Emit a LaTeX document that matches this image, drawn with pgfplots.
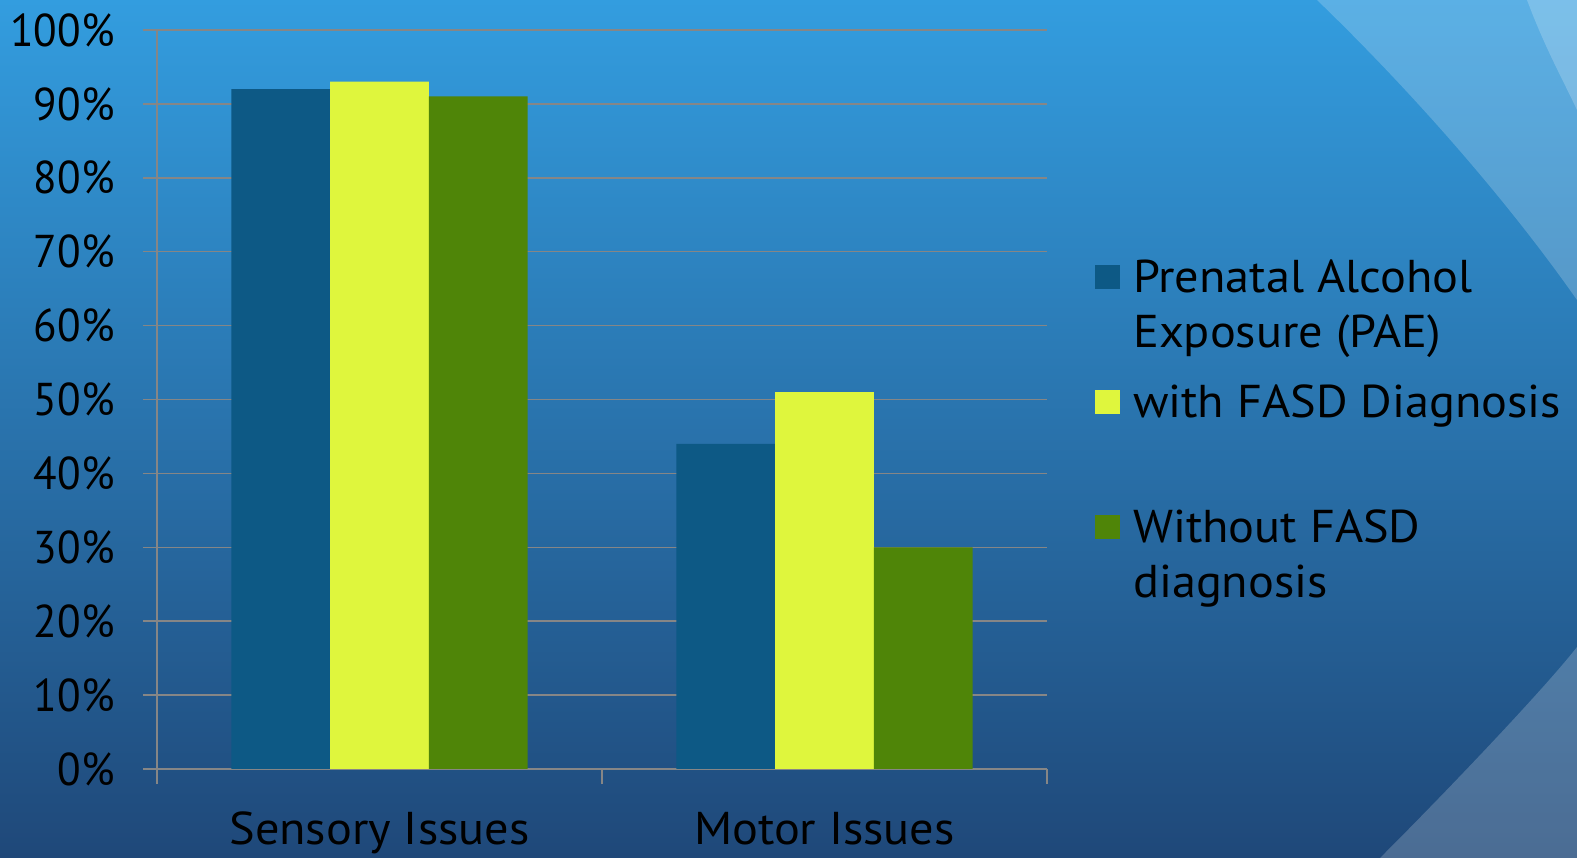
\documentclass[border=0pt]{standalone}
\usepackage{pgfplots}
\pgfplotsset{compat=1.18}
\usepackage{fontspec}
\setmainfont{PT Sans}
\newfontfamily\widefont[FakeStretch=1.05]{PT Sans}
\newfontfamily\narrowfont[FakeStretch=0.94]{PT Sans}
\definecolor{bgtop}{RGB}{51,157,223}
\definecolor{bgbot}{RGB}{31,72,121}
\definecolor{paeblue}{RGB}{13,89,133}
\definecolor{fasdyellow}{RGB}{223,246,61}
\definecolor{nofasdgreen}{RGB}{79,133,8}
\definecolor{gridgray}{RGB}{134,134,134}
% legend text: first line on the baseline, fixed row pitch of 125pt
\newcommand\legtext[1]{\rule[-70pt]{0pt}{125pt}\smash{\begin{tabular}[t]{@{}l@{}}#1\end{tabular}}}
\begin{document}
\begin{tikzpicture}[x=1pt,y=1pt]
\useasboundingbox (0,0) rectangle (1577,858);
% slide background
\shade[top color=bgtop, bottom color=bgbot] (0,0) rectangle (1577,858);
\fill[white,opacity=0.2] (1317,858) .. controls (1400,778) and (1500,668) .. (1577,558) -- (1577,858) -- cycle;
\fill[white,opacity=0.2] (1527,858) .. controls (1545,810) and (1562,780) .. (1577,748) -- (1577,858) -- cycle;
\fill[white,opacity=0.2] (1577,211) .. controls (1545,170) and (1450,70) .. (1380,0) -- (1577,0) -- cycle;
\begin{axis}[
  at={(157pt,89pt)}, anchor=south west,
  width=890pt, height=739pt, scale only axis,
  xmin=-0.5, xmax=1.5, ymin=0, ymax=100,
  ybar=0pt, bar width=0.2218,
  axis x line*=bottom, axis y line*=left,
  axis line style={gridgray, line width=1.5pt},
  ymajorgrids, grid style={gridgray, line width=1.5pt},
  ytick={0,10,...,100},
  yticklabel={\pgfmathprintnumber{\tick}\%},
  xtick={0,1}, xticklabels={Sensory Issues, Motor Issues},
  minor xtick={-0.5,0.5,1.5},
  tick align=outside,
  major tick length=14pt, minor tick length=15pt,
  tick style={gridgray, line width=1.5pt},
  major x tick style={draw=none},
  /pgf/number format/assume math mode=true,
  tick label style={font=\fontsize{46}{55}\selectfont, text=black},
  yticklabel style={xshift=-25pt, font=\narrowfont\fontsize{46}{55}\selectfont},
  xticklabel style={anchor=base, yshift=-62pt, font=\widefont\fontsize{46}{55}\selectfont},
  legend style={at={(1.0539,0.7199)}, anchor=north west, draw=none, fill=none,
    inner sep=0pt, column sep=13pt, row sep=0pt,
    font=\widefont\fontsize{46}{55}\selectfont,
    cells={anchor=base west}, nodes={inner sep=0pt, text depth=}},
  legend image code/.code={\fill[#1,draw=none] (0pt,3pt) rectangle (25pt,27pt);},
]
\addplot[fill=paeblue, draw=none] coordinates {(0,92) (1,44)};
\addlegendentry{\legtext{Prenatal Alcohol\\Exposure (PAE)}}
\addplot[fill=fasdyellow, draw=none] coordinates {(0,93) (1,51)};
\addlegendentry{\legtext{with FASD Diagnosis}}
\addplot[fill=nofasdgreen, draw=none] coordinates {(0,91) (1,30)};
\addlegendentry{\legtext{Without FASD\\diagnosis}}
\end{axis}
\end{tikzpicture}
\end{document}
